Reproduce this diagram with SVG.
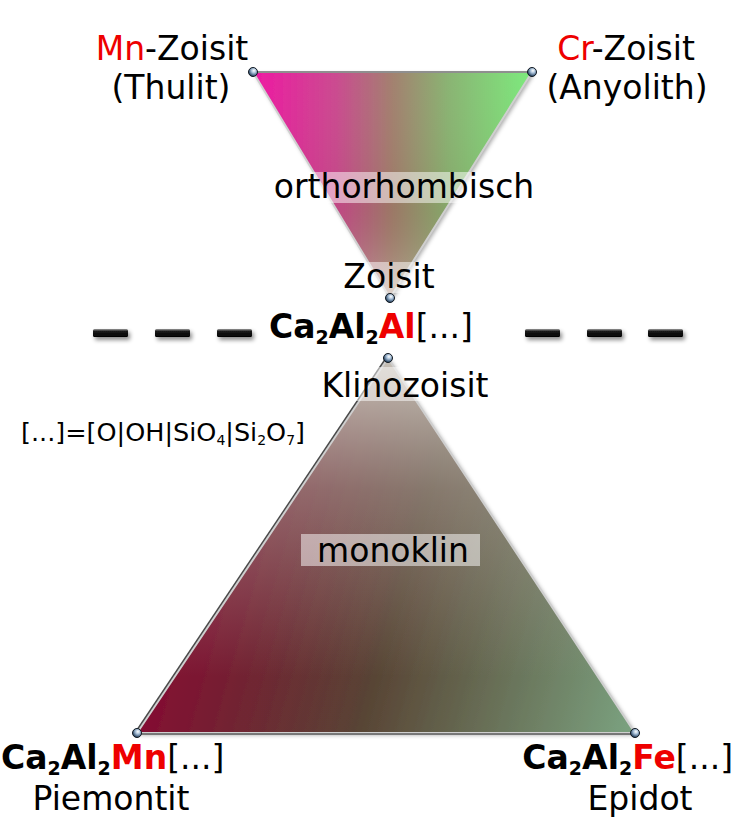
<svg xmlns="http://www.w3.org/2000/svg" width="737" height="820" viewBox="0 0 737 820">
<style>
  .t { font-family: "DejaVu Sans", "Verdana", sans-serif; font-size: 33px; fill: #000; }
  .b { font-weight: bold; }
  .red { fill: #ee0000; }
  .sub { font-size: 19px; }
  .box { fill: #ffffff; fill-opacity: 0.5; }
  .edge { fill: none; stroke: #cfcfcf; stroke-width: 2; stroke-linejoin: round; }
  .ball { fill: url(#gBall); stroke: #111820; stroke-width: 1; }
  .dash { fill: url(#gDash); filter: url(#shDash); }
</style>
<defs>
  <linearGradient id="gTopH" gradientUnits="userSpaceOnUse" x1="253" y1="0" x2="532" y2="0">
    <stop offset="0" stop-color="#ee0c9e"/>
    <stop offset="0.3" stop-color="#c8428a"/>
    <stop offset="0.5" stop-color="#9e7a68"/>
    <stop offset="0.7" stop-color="#84b06c"/>
    <stop offset="1" stop-color="#76ea76"/>
  </linearGradient>
  <linearGradient id="gTopV" gradientUnits="userSpaceOnUse" x1="0" y1="72" x2="0" y2="298">
    <stop offset="0" stop-color="#ffffff" stop-opacity="0.05"/>
    <stop offset="0.6" stop-color="#8a6a5a" stop-opacity="0.12"/>
    <stop offset="1" stop-color="#d8d0c4" stop-opacity="0.5"/>
  </linearGradient>
  <linearGradient id="gBotH" gradientUnits="userSpaceOnUse" x1="137" y1="560" x2="635" y2="700">
    <stop offset="0" stop-color="#8e0032"/>
    <stop offset="0.5" stop-color="#584434"/>
    <stop offset="1" stop-color="#7aa07e"/>
  </linearGradient>
  <linearGradient id="gBotV" gradientUnits="userSpaceOnUse" x1="0" y1="358" x2="0" y2="733">
    <stop offset="0" stop-color="#c8c2b8" stop-opacity="1"/>
    <stop offset="0.35" stop-color="#b4aca4" stop-opacity="0.5"/>
    <stop offset="0.85" stop-color="#b0a8a0" stop-opacity="0"/>
  </linearGradient>
  <radialGradient id="gBall" cx="0.6" cy="0.35" r="0.75">
    <stop offset="0" stop-color="#ffffff"/>
    <stop offset="0.35" stop-color="#a8c0d8"/>
    <stop offset="0.8" stop-color="#2e4a68"/>
    <stop offset="1" stop-color="#141e2a"/>
  </radialGradient>
  <linearGradient id="gDash" x1="0" y1="0" x2="0" y2="1">
    <stop offset="0" stop-color="#9a9a9a"/>
    <stop offset="0.3" stop-color="#1a1a1a"/>
    <stop offset="1" stop-color="#000000"/>
  </linearGradient>
  <filter id="sh" x="-10%" y="-10%" width="130%" height="130%">
    <feDropShadow dx="2" dy="2" stdDeviation="2" flood-color="#000" flood-opacity="0.35"/>
  </filter>
  <filter id="shDash" x="-20%" y="-60%" width="150%" height="260%">
    <feDropShadow dx="2" dy="3" stdDeviation="2" flood-color="#000" flood-opacity="0.45"/>
  </filter>
</defs>

<g id="dashes">
  <rect class="dash" x="93" y="329" width="35" height="8" rx="1.5"/>
  <rect class="dash" x="155" y="329" width="35" height="8" rx="1.5"/>
  <rect class="dash" x="217" y="329" width="35" height="8" rx="1.5"/>
  <rect class="dash" x="525" y="329" width="35" height="8" rx="1.5"/>
  <rect class="dash" x="587" y="329" width="35" height="8" rx="1.5"/>
  <rect class="dash" x="648" y="329" width="35" height="8" rx="1.5"/>
</g>

<g id="ortho-triangle">
  <polygon points="253,72 532,72 390,298" fill="url(#gTopH)" filter="url(#sh)"/>
  <polygon points="253,72 532,72 390,298" fill="url(#gTopV)"/>
  <polygon class="edge" points="253,72 532,72 390,298"/>
  <line x1="253" y1="72" x2="532" y2="72" stroke="#7a7a7a" stroke-width="1.5"/>
</g>

<g id="mono-triangle">
  <polygon points="388,358 137,733 635,733" fill="url(#gBotH)" filter="url(#sh)"/>
  <polygon points="388,358 137,733 635,733" fill="url(#gBotV)"/>
  <polygon class="edge" points="388,358 137,733 635,733"/>
  <line x1="386" y1="358" x2="135" y2="733" stroke="#4a4a4a" stroke-width="1.5"/>
  <line x1="137" y1="734" x2="635" y2="734" stroke="#222" stroke-width="1.2"/>
</g>

<g id="labels-boxes">
  <rect class="box" x="274" y="172" width="219" height="31"/>
  <rect class="box" x="342" y="262" width="95" height="31"/>
  <rect class="box" x="322" y="367" width="166" height="34"/>
  <rect class="box" x="301" y="534" width="179" height="32"/>
</g>

<g id="node-mn-zoisit">
  <circle class="ball" cx="253" cy="72" r="4.5"/>
  <text class="t" text-anchor="middle" x="172" y="60"><tspan class="red">Mn</tspan>-Zoisit</text>
  <text class="t" text-anchor="middle" x="171" y="99">(Thulit)</text>
</g>

<g id="node-cr-zoisit">
  <circle class="ball" cx="532" cy="72" r="4.5"/>
  <text class="t" text-anchor="middle" x="626" y="60"><tspan class="red">Cr</tspan>-Zoisit</text>
  <text class="t" text-anchor="middle" x="627" y="99">(Anyolith)</text>
</g>

<g id="label-ortho">
  <text class="t" text-anchor="middle" x="404" y="198">orthorhombisch</text>
</g>

<g id="node-zoisit">
  <circle class="ball" cx="390" cy="298" r="4.5"/>
  <text class="t" text-anchor="middle" x="389" y="288">Zoisit</text>
</g>

<g id="label-al">
  <text class="t" x="269" y="338"><tspan class="b">Ca</tspan><tspan class="b sub" dy="6">2</tspan><tspan class="b" dy="-6">Al</tspan><tspan class="b sub" dy="6">2</tspan><tspan class="b red" dy="-6">Al</tspan>[...]</text>
</g>

<g id="node-klinozoisit">
  <circle class="ball" cx="388" cy="358" r="4.5"/>
  <text class="t" text-anchor="middle" x="405" y="397">Klinozoisit</text>
</g>

<g id="label-formula">
  <text class="t" style="font-size:25.5px" x="21" y="441">[...]=[O|OH|SiO<tspan style="font-size:14px" dy="4">4</tspan><tspan dy="-4">|Si</tspan><tspan style="font-size:14px" dy="4">2</tspan><tspan dy="-4">O</tspan><tspan style="font-size:14px" dy="4">7</tspan><tspan dy="-4">]</tspan></text>
</g>

<g id="label-mono">
  <text class="t" text-anchor="middle" x="393" y="562">monoklin</text>
</g>

<g id="node-piemontit">
  <circle class="ball" cx="137" cy="733" r="4.5"/>
  <text class="t" x="1" y="769"><tspan class="b">Ca</tspan><tspan class="b sub" dy="6">2</tspan><tspan class="b" dy="-6">Al</tspan><tspan class="b sub" dy="6">2</tspan><tspan class="b red" dy="-6">Mn</tspan>[...]</text>
  <text class="t" text-anchor="middle" x="111" y="810">Piemontit</text>
</g>

<g id="node-epidot">
  <circle class="ball" cx="635" cy="733" r="4.5"/>
  <text class="t" text-anchor="end" x="733" y="769"><tspan class="b">Ca</tspan><tspan class="b sub" dy="6">2</tspan><tspan class="b" dy="-6">Al</tspan><tspan class="b sub" dy="6">2</tspan><tspan class="b red" dy="-6">Fe</tspan>[...]</text>
  <text class="t" text-anchor="middle" x="640" y="810">Epidot</text>
</g>
</svg>
